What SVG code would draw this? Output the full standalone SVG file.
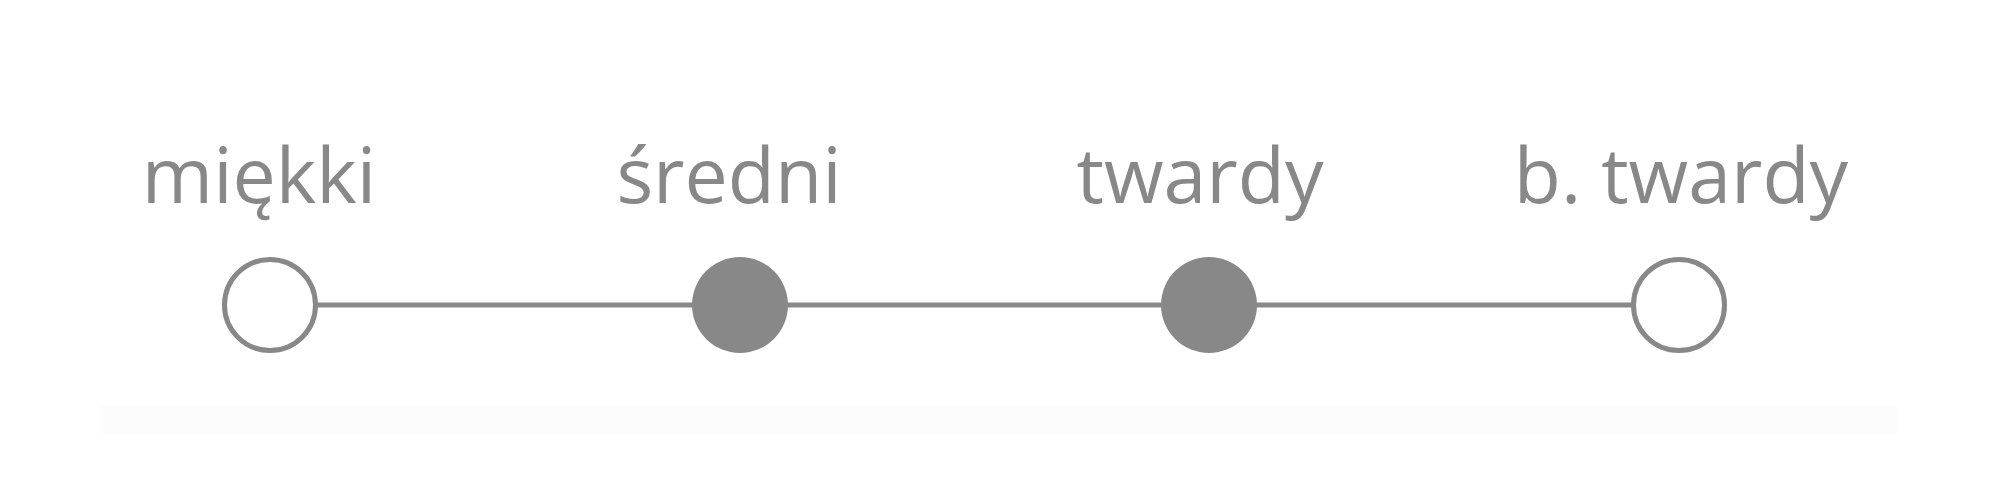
<svg xmlns="http://www.w3.org/2000/svg" width="2000" height="500" viewBox="0 0 2000 500">
<style>
.lbl{font-family:"Open Sans","Noto Sans","DejaVu Sans",sans-serif;font-size:77px;fill:#888888;text-anchor:middle}
.open{fill:#ffffff;stroke:#888888;stroke-width:5}
.full{fill:#888888}
.conn{stroke:#888888;stroke-width:5;fill:none}
</style>
<rect x="0" y="0" width="2000" height="500" fill="#ffffff"/>
<rect x="100" y="406" width="1797" height="27" fill="#fcfcfc"/>
<g id="connectors">
<line class="conn" x1="270" y1="305" x2="1679" y2="305"/>
</g>
<g id="node-miekki">
<circle class="open" cx="270" cy="305" r="45.5"/>
<text class="lbl" x="259" y="203">miękki</text>
</g>
<g id="node-sredni">
<circle class="full" cx="740" cy="305" r="48"/>
<text class="lbl" x="729" y="203">średni</text>
</g>
<g id="node-twardy">
<circle class="full" cx="1209" cy="305" r="48"/>
<text class="lbl" x="1200" y="203">twardy</text>
</g>
<g id="node-btwardy">
<circle class="open" cx="1679" cy="305" r="45.5"/>
<text class="lbl" x="1681" y="203">b. twardy</text>
</g>
</svg>
